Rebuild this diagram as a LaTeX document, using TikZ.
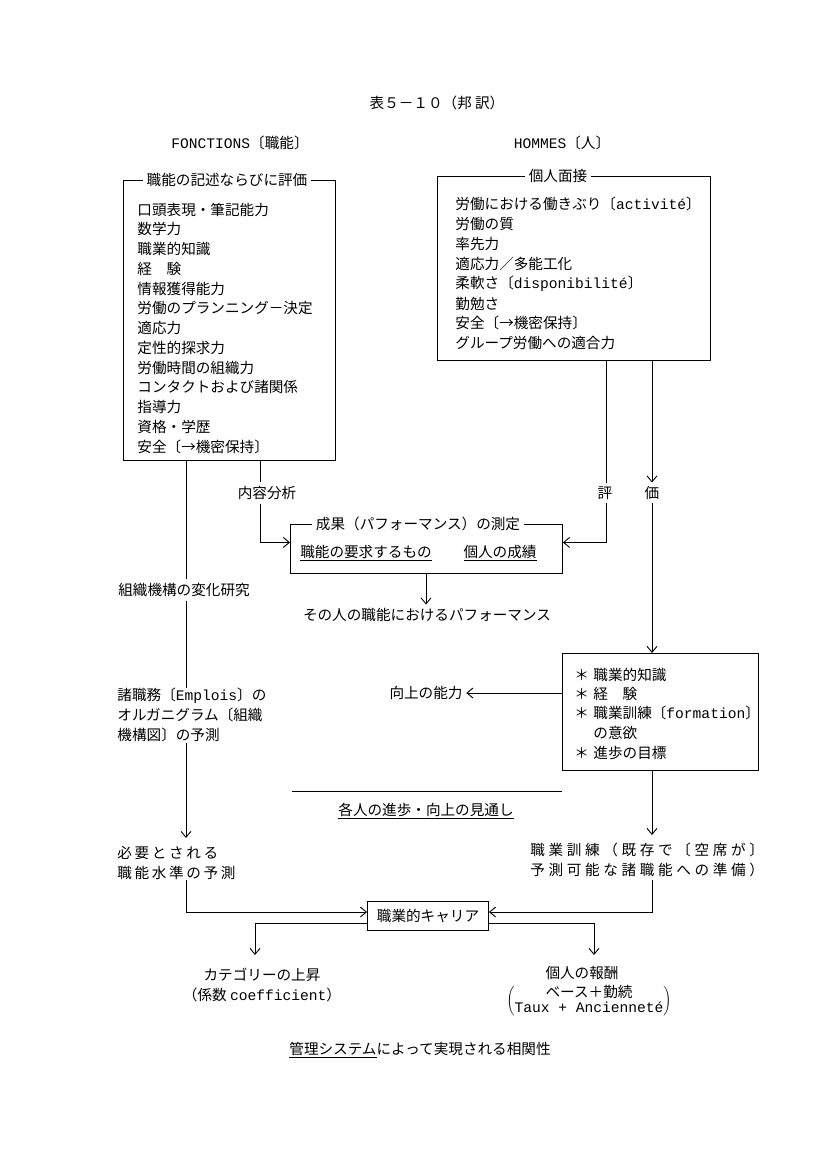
\documentclass[tikz,border=0pt]{standalone}
\usepackage{fontspec}
\setmainfont{Noto Sans CJK JP}
\newfontfamily\latfont{Liberation Mono}
\newcommand{\latn}[1]{{\latfont #1}}
\usepackage{tikz}
\usetikzlibrary{arrows.meta,positioning,calc}

\begin{document}
\begin{tikzpicture}[
  x=1pt, y=-1pt,
  line width=0.9pt,
  font=\fontsize{14.6}{20}\selectfont,
  frame/.style={draw, rectangle, inner sep=0pt, anchor=north west},
  boxtitle/.style={fill=white, inner xsep=4pt, inner ysep=1pt},
  item/.style={anchor=west, inner sep=0pt},
  txt/.style={align=left, anchor=north west, inner sep=0pt},
  wide/.style={font=\fontsize{14.6}{20}\selectfont\addfontfeature{LetterSpace=#1}},
  arr/.style={-{Straight Barb[length=6pt,width=10pt]}}
]
\useasboundingbox (0,0) rectangle (827,1170);

% headings
\node (title) at (437,103) {表５－１０（邦 訳）};
\node (fonc) at (240,143) {\latn{FONCTIONS}〔職能〕};
\node (hom) at (562,143) {\latn{HOMMES}〔人〕};

% functions box
\node[frame, minimum width=212pt, minimum height=280pt] (funcbox) at (123,180) {};
\node[boxtitle] (functitle) at (227,180) {職能の記述ならびに評価};
\foreach \Item [count=\i from 0] in {口頭表現・筆記能力, 数学力, 職業的知識, 経　験, 情報獲得能力, 労働のプランニング－決定, 適応力, 定性的探求力, 労働時間の組織力, コンタクトおよび諸関係, 指導力, 資格・学歴, 安全〔→機密保持〕}
  \node[item] (f\i) at (137,{209.5+19.75*\i}) {\Item};

% interview box
\node[frame, minimum width=273pt, minimum height=184pt] (menbox) at (437,176) {};
\node[boxtitle] (mentitle) at (558,176) {個人面接};
\foreach \Item [count=\i from 0] in {労働における働きぶり〔\latn{activité}〕, 労働の質, 率先力, 適応力／多能工化, 柔軟さ〔\latn{disponibilité}〕, 勤勉さ, 安全〔→機密保持〕, グループ労働への適合力}
  \node[item] (h\i) at (455,{204+19.9*\i}) {\Item};

% measurement box
\node[frame, minimum width=272pt, minimum height=49pt] (meas) at (290,524) {};
\node[boxtitle] (meastitle) at (418,524) {成果（パフォーマンス）の測定};
\node[inner sep=0pt] (req) at (366,553) {\underline{職能の要求するもの}};
\node[inner sep=0pt] (perf) at (500,553) {\underline{個人の成績}};
\node (perfm) at (427,615) {その人の職能におけるパフォーマンス};

% goals box
\node[frame, minimum width=196pt, minimum height=117pt] (goalbox) at (562,653) {};
\foreach \Item/\Y [count=\i] in {職業的知識/675, 経　験/694, 職業訓練〔\latn{formation}〕/713, 進歩の目標/753} {
  \node[item] (s\i) at (574,\Y) {＊};
  \node[item] (g\i) at (593,\Y) {\Item};
}
\node[item] (g5) at (593,733) {の意欲};
\node (abil) at (426,693) {向上の能力};
\node[inner sep=0pt] (prosp) at (426,811) {\underline{各人の進歩・向上の見通し}};
\coordinate (hl) at (292,791);
\draw (hl) -- (hl -| goalbox.west);

% left column
\node (cont) at (267,493) {内容分析};
\node (org) at (184,590) {組織機構の変化研究};
\node[txt] (emp) at (117,688) {諸職務〔\latn{Emplois}〕の\\オルガニグラム〔組織\\機構図〕の予測};
\node[txt, wide=18] (need) at (117,846) {必要とされる\\職能水準の予測};
\node[txt, wide=25] (train) at (530,843) {職業訓練（既存で〔空席が〕\\予測可能な諸職能への準備）};

% career and results
\node[draw, minimum width=121pt, minimum height=29pt, inner sep=0pt] (career) at (428,915.5) {職業的キャリア};
\node[align=center, inner sep=0pt] (cat) at (262,985) {カテゴリーの上昇\\（係数 \latn{coefficient}）};
\node[inner sep=0pt] (pay) at (582,973) {個人の報酬};
\node[inner sep=0pt] (paybr) at (589,1001) {$\left(\renewcommand{\arraystretch}{0.75}\begin{tabular}{@{}c@{}}ベース＋勤続\\ \latn{Taux + Ancienneté}\end{tabular}\right)$};
\node (cap) at (420,1050) {\underline{管理システム}によって実現される相関性};

% column positions
\coordinate (colL) at (186,0);
\coordinate (colC) at (260,0);
\coordinate (colM) at (426,0);
\coordinate (colE) at (606,0);
\coordinate (colK) at (652,0);
\coordinate (catTip) at (255,955);
\coordinate (payTip) at (594,955);
\node (hyo) at (605,493) {評};
\node (ka) at (652,493) {価};

% connectors
\draw (funcbox.south -| colL) -- (org.north -| colL);
\draw (org.south -| colL) -- (emp.north -| colL);
\draw[arr] (emp.south -| colL) -- ([yshift=8pt]need.north -| colL);
\draw[arr] (need.south -| colL) |- ([yshift=3.5pt]career.west);
\draw (funcbox.south -| colC) -- (cont.north -| colC);
\draw[arr] (cont.south -| colC) |- ([yshift=6.5pt]meas.west);
\draw[arr] (meas.south -| colM) -- (perfm.north -| colM);
\draw (menbox.south -| colE) -- (hyo.north -| colE);
\draw[arr] (hyo.south -| colE) |- ([yshift=6.5pt]meas.east);
\draw[arr] (menbox.south -| colK) -- (ka.north -| colK);
\draw[arr] (ka.south -| colK) -- (goalbox.north -| colK);
\draw[arr] (goalbox.west |- abil.east) -- (abil.east);
\draw[arr] (goalbox.south -| colK) -- ([yshift=8pt]train.north -| colK);
\draw[arr] ([yshift=-2pt]train.south -| colK) |- ([yshift=3.5pt]career.east);
\draw[arr] ([yshift=-7.5pt]career.west) -| (catTip);
\draw[arr] ([yshift=-7.5pt]career.east) -| (payTip);
\end{tikzpicture}
\end{document}
